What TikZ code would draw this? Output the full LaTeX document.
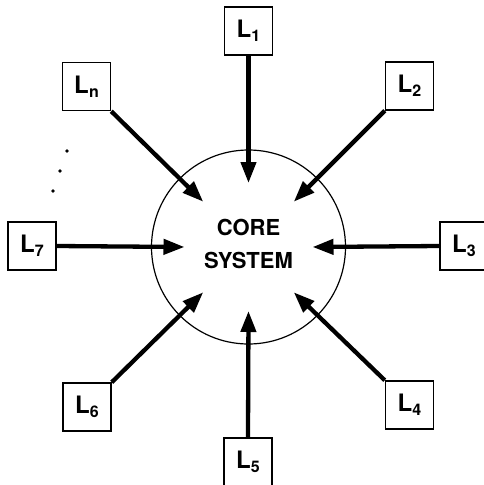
\documentclass[tikz,border=0pt]{standalone}
\usepackage{fontspec}
\setmainfont{TeX Gyre Heros}
\usetikzlibrary{arrows.meta}
\newcommand{\lab}[1]{{\bfseries\fontsize{24}{24}\selectfont L}\kern0.2pt\raisebox{-4pt}{\bfseries\fontsize{16}{16}\selectfont #1}}
\tikzset{
  lbox/.style={draw, line width=1.5pt, minimum width=48pt, minimum height=48pt, inner sep=0pt, font=\bfseries},
  feed/.style={line width=4.3pt, -{Triangle[length=21pt,width=15pt]}, shorten >=0pt},
  coretext/.style={font=\bfseries\fontsize{22}{22}\selectfont},
}
\begin{document}
\begin{tikzpicture}[x=1pt,y=-1pt]
\useasboundingbox (0,0) rectangle (483,485);
\node[circle, draw, line width=1.2pt, minimum size=194pt, inner sep=0pt] (core) at (248.5,247) {};
\node[coretext] (t1) at (248.5,227) {CORE};
\node[coretext] (t2) at (248.5,260) {SYSTEM};
\node[lbox] (l1) at (248.5,31) {\lab{1}};
\node[lbox] (ln) at (86.5,86.5) {\lab{n}};
\node[lbox] (l2) at (409.5,86) {\lab{2}};
\node[lbox] (l7) at (32,246) {\lab{7}};
\node[lbox] (l3) at (464,246) {\lab{3}};
\node[lbox] (l6) at (87,407) {\lab{6}};
\node[lbox] (l4) at (409.5,405) {\lab{4}};
\node[lbox] (l5) at (248,462) {\lab{5}};
\coordinate (a1) at (248.5,183);
\coordinate (an) at (203.2,201.7);
\coordinate (a2) at (293.8,201.7);
\coordinate (a7) at (184.5,247);
\coordinate (a3) at (312.5,247);
\coordinate (a6) at (203.2,292.3);
\coordinate (a4) at (293.8,292.3);
\coordinate (a5) at (248.5,311);
\draw[feed] (l1.south) -- (a1);
\draw[feed] (ln.south east) -- (an);
\draw[feed] (l2.south west) -- (a2);
\draw[feed] (l7.east) -- (a7);
\draw[feed] (l3.west) -- (a3);
\draw[feed] (l6.north east) -- (a6);
\draw[feed] (l4.north west) -- (a4);
\draw[feed] (l5.north) -- (a5);
\fill (67,151) circle (1.9pt);
\fill (60,171) circle (1.9pt);
\fill (53,191) circle (1.9pt);
\end{tikzpicture}
\end{document}
